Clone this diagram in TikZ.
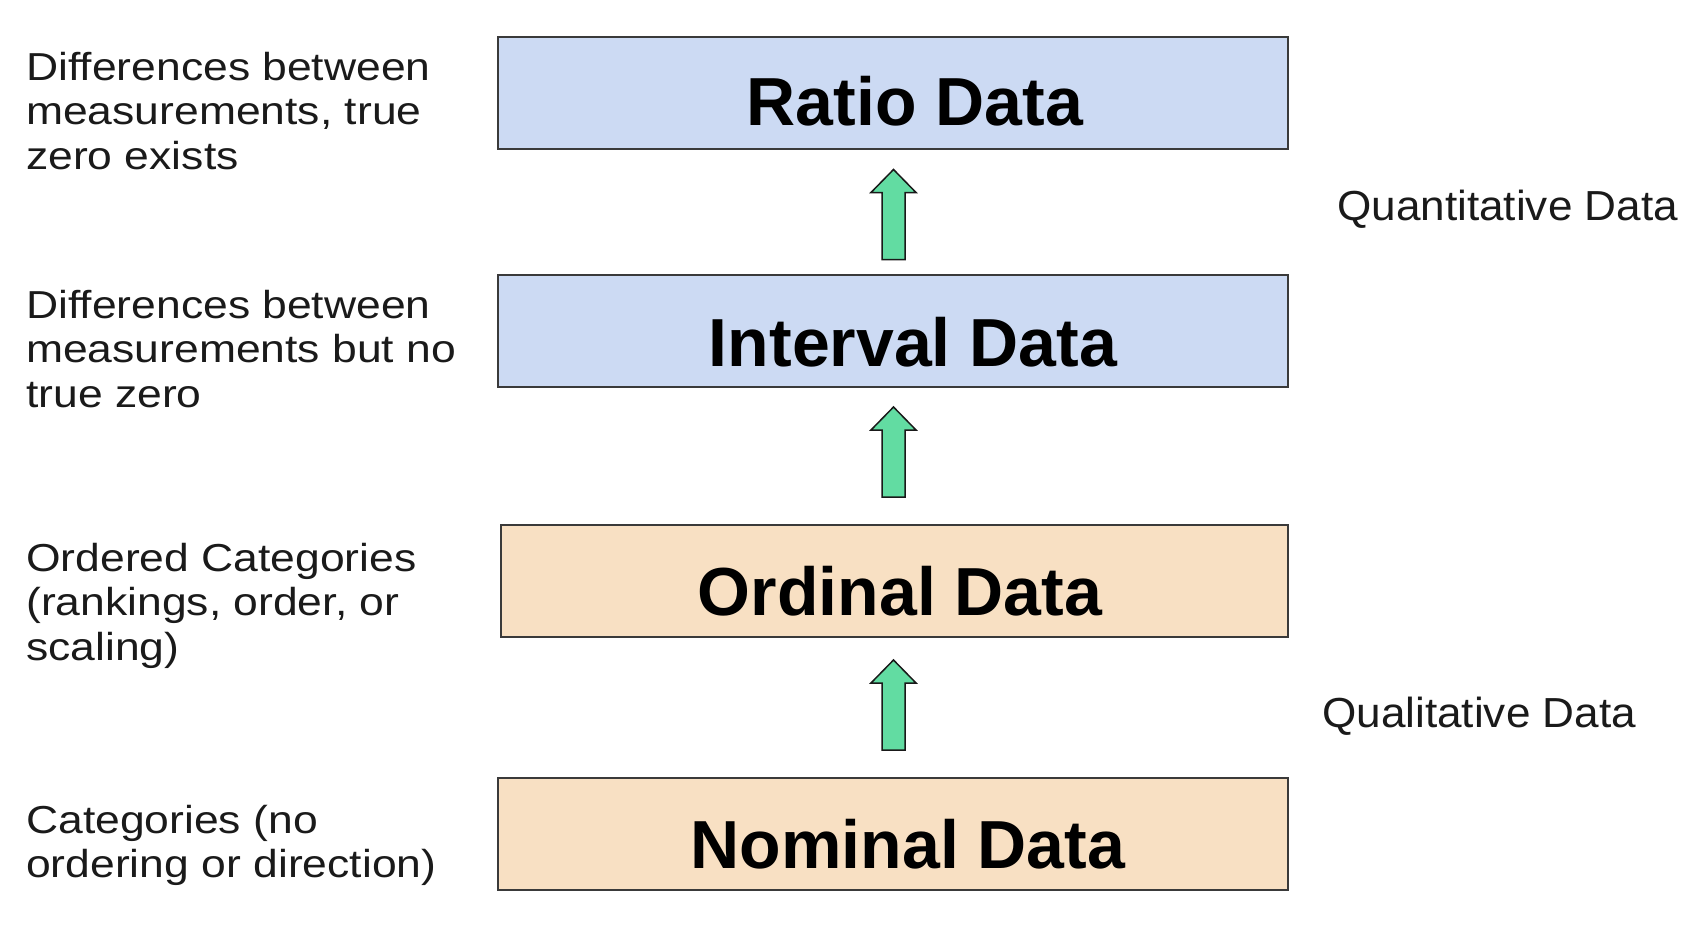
\documentclass[tikz,border=0pt]{standalone}
\usepackage{fontspec}
\setmainfont{Liberation Sans}
\newfontfamily\lefttxt{Liberation Sans}[FakeStretch=1.14]
\newfontfamily\righttxt{Liberation Sans}[FakeStretch=1.05]
\usetikzlibrary{calc}
\definecolor{boxblue}{HTML}{CCDAF3}
\definecolor{boxorange}{HTML}{F8E0C3}
\definecolor{arrowgreen}{HTML}{62DCA2}
\definecolor{edgegray}{HTML}{3A3A3A}
\definecolor{txtgray}{HTML}{1A1A1A}
\tikzset{
  levelbox/.style={draw=edgegray, line width=2pt, minimum width=790pt, minimum height=112pt, inner sep=0pt},
  quantbox/.style={levelbox, fill=boxblue},
  qualbox/.style={levelbox, fill=boxorange},
  boxtitle/.style={inner sep=0pt, anchor=base, font={\fontsize{68}{80}\selectfont\bfseries}, text=black},
  sidenote/.style={inner sep=0pt, anchor=base west, text=txtgray, font={\lefttxt\fontsize{39}{44.5}\selectfont}},
  grouplabel/.style={inner sep=0pt, anchor=base west, text=txtgray, font={\righttxt\fontsize{42}{48}\selectfont}},
  blockarrow/.style={draw=black!90, fill=arrowgreen, line width=1.5pt, line join=miter}
}
\begin{document}
\begin{tikzpicture}[x=1pt, y=-1pt]
\useasboundingbox (0,0) rectangle (1700,924);
% boxes
\node[quantbox] (ratio) at (893,92.5) {};
\node[quantbox] (interval) at (893,330.5) {};
\node[qualbox, minimum width=787pt] (ordinal) at (894.5,581) {};
\node[qualbox] (nominal) at (893,834) {};
% titles
\node[boxtitle] (ratioT) at (915,125) {Ratio Data};
\node[boxtitle] (intervalT) at (913,366) {Interval Data};
\node[boxtitle] (ordinalT) at (900,615) {Ordinal Data};
\node[boxtitle] (nominalT) at (908,868) {Nominal Data};
% block arrows between boxes
\coordinate (a1) at ($(interval.north)+(0.5,-14)$);
\coordinate (a2) at ($(ordinal.north)+(-1,-27)$);
\coordinate (a3) at ($(nominal.north)+(0.5,-27)$);
\foreach \c in {a1,a2,a3}{
  \draw[blockarrow] (\c) ++(-11.5,0) -- ++(0,-67) -- ++(-11,0) -- ++(22.5,-23)
     -- ++(22.5,23) -- ++(-11,0) -- ++(0,67) -- cycle;
}
% side notes
\node[sidenote] (n1) at (26,80) {\vtop{\hbox{Differences between}\hbox{measurements, true}\hbox{zero exists}}};
\node[sidenote] (n2) at (26,318) {\vtop{\hbox{Differences between}\hbox{measurements but no}\hbox{true zero}}};
\node[sidenote] (n3) at (26,571) {\vtop{\hbox{Ordered Categories}\hbox{(rankings, order, or}\hbox{scaling)}}};
\node[sidenote] (n4) at (26,833) {\vtop{\hbox{Categories (no}\hbox{ordering or direction)}}};
% group labels
\node[grouplabel] (quant) at (1337,220) {Quantitative Data};
\node[grouplabel] (qual) at (1322,727) {Qualitative Data};
\end{tikzpicture}
\end{document}
